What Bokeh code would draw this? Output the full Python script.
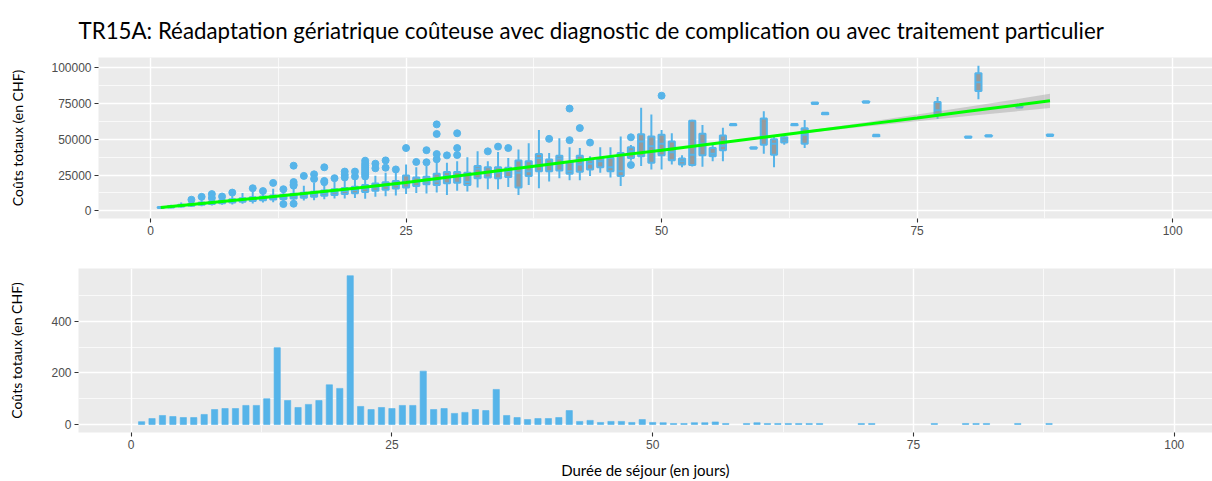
from bokeh.plotting import figure
from bokeh.models import FixedTicker, BasicTickFormatter, Range1d, ColumnDataSource
from bokeh.embed import file_html
from bokeh.resources import INLINE

TITLE = "TR15A: Réadaptation gériatrique coûteuse avec diagnostic de complication ou avec traitement particulier"
Y_LABEL = "Coûts totaux (en CHF)"
X_LABEL = "Durée de séjour (en jours)"

# ---- boxplot summaries per length of stay (days) ----
box_day = [1, 2, 3, 4, 5, 6, 7, 8, 9, 10, 11, 12, 13, 14, 15, 16, 17, 18, 19, 20,
           21, 22, 23, 24, 25, 26, 27, 28, 29, 30, 31, 32, 33, 34, 35, 36, 37, 38, 39, 40,
           41, 42, 43, 44, 45, 46, 47, 48, 49, 50, 51, 52, 53, 54, 55, 56, 57, 59, 60, 61,
           62, 63, 64, 65, 66, 70, 71, 77, 80, 81, 82, 85, 88]
w_low = [1800, 1800, 2300, 2800, 3300, 3800, 4300, 4500, 4900, 5200, 5800, 6000, 6300, 6500, 7200, 7500, 8200, 8700, 8600, 9000,
         8500, 9800, 10200, 10800, 11700, 12400, 12100, 12800, 11000, 14000, 13500, 16300, 15100, 15100, 16700, 11000, 18100, 15800, 20400, 22700,
         21300, 21300, 24300, 26600, 23200, 17400, 35000, 31200, 28900, 28900, 32300, 30500, 31000, 30700, 34600, 34600, 59600, 43300, 39900, 30500,
         46100, 59600, 43800, 74500, 67400, 75400, 52000, 64300, 50900, 77800, 51800, 72000, 52200]
q1 = [2000, 2400, 3000, 3600, 4200, 4800, 5400, 5900, 6400, 6900, 7500, 7900, 8300, 8700, 9200, 9800, 10500, 11100, 11700, 12300,
      13200, 14000, 14700, 15600, 16300, 17400, 18600, 18100, 19300, 19700, 18100, 22700, 23200, 22700, 23600, 16300, 24300, 27700, 27700, 28200,
      25900, 27300, 28900, 30500, 27700, 24300, 36900, 38100, 33500, 38800, 35300, 32300, 31900, 38800, 38100, 42200, 59600, 43300, 46100, 39200,
      47700, 59600, 46800, 74500, 67400, 75400, 52000, 67400, 50900, 83500, 51800, 72000, 52200]
med = [2300, 2900, 3500, 4200, 4900, 5600, 6300, 6900, 7500, 8100, 8700, 9200, 9700, 10200, 10800, 11500, 12300, 13000, 13800, 14600,
       15600, 16500, 17300, 18200, 20000, 20200, 20500, 20400, 24300, 24300, 20200, 29300, 27100, 26800, 27700, 26600, 27700, 36900, 32800, 36500,
       27700, 32300, 32800, 34600, 30500, 27700, 41500, 48400, 45000, 46800, 40800, 34600, 39200, 46800, 39900, 45400, 60100, 43800, 51800, 46800,
       49500, 60100, 53000, 75000, 67900, 75900, 52500, 70200, 51400, 89700, 52300, 72500, 52700]
q3 = [2700, 3400, 4200, 5000, 5800, 6600, 7400, 8100, 8800, 9500, 10100, 10800, 11300, 11900, 12600, 13400, 14300, 15100, 16000, 16900,
      18000, 19100, 19900, 20800, 24700, 23200, 23800, 25900, 27100, 27100, 26600, 31200, 30500, 30500, 30000, 35100, 34600, 39700, 35800, 38500,
      33900, 38500, 35300, 36900, 36900, 40400, 44300, 53400, 51800, 53000, 48400, 36500, 62800, 53700, 43800, 52500, 60600, 44300, 64400, 50000,
      51400, 60600, 57600, 75500, 68400, 76400, 53000, 75900, 51900, 95900, 52800, 73000, 53200]
w_high = [3000, 4300, 5800, 6600, 7900, 8600, 9400, 10900, 12500, 13500, 12800, 15500, 14500, 17000, 17500, 19500, 18800, 20500, 21500, 22000,
          23000, 24500, 26500, 26800, 32300, 30500, 31200, 34600, 33500, 34600, 37400, 41500, 34600, 41100, 36900, 42700, 47200, 56400, 40400, 50700,
          44300, 43800, 38100, 44300, 44300, 51800, 46000, 71800, 67200, 56400, 54100, 38800, 63500, 59900, 46100, 58000, 60600, 44300, 69500, 51800,
          52300, 60600, 63300, 75500, 68400, 76400, 53000, 79400, 51900, 101100, 52800, 73000, 53200]

# ---- outliers ----
out_day = [4, 5, 6, 6, 7, 8, 10, 11, 12, 13, 13, 14, 14, 14, 14, 14, 15, 16, 16, 17, 17, 17, 18, 19, 19, 19, 20, 20,
           21, 21, 21, 21, 21, 21, 21, 21, 22, 22, 23, 23, 24, 25, 26, 27, 27, 28, 28, 28, 28, 29, 30, 30, 30,
           33, 34, 35, 39, 41, 41, 42, 43, 47, 47, 50]
out_val = [7800, 9800, 11700, 9000, 10000, 12750, 15800, 13800, 19500, 15100, 4800, 31500, 20100, 18500, 17600, 5000, 24400, 25500, 22300, 30400, 20900, 20000, 22800, 27400, 25100, 23300, 27400, 24000,
           35000, 33000, 31500, 30000, 28500, 27000, 25500, 24000, 32900, 29700, 35200, 30100, 28900, 43800, 34100, 42300, 33900, 60300, 53600, 39600, 36000, 38700, 54100, 43800, 38900,
           41500, 44800, 43800, 50200, 71300, 49300, 57700, 47600, 51300, 32000, 80300]

# ---- smoothed trend with confidence band ----
smooth_x = [1, 5, 10, 15, 20, 25, 30, 35, 40, 45, 50, 55, 60, 65, 70, 75, 80, 85, 88]
smooth_y = [2300, 5100, 8600, 12100, 15800, 19800, 24300, 28800, 33400, 38000, 42300, 46800, 51300, 55800, 60300, 64800, 69400, 73900, 76700]
smooth_se = [700, 500, 350, 300, 300, 300, 300, 300, 300, 300, 300, 350, 500, 900, 1500, 2300, 3200, 4300, 5000]

# ---- number of cases per length of stay ----
count_day = box_day
count_n = [11, 23, 35, 31, 27, 27, 39, 58, 62, 62, 74, 74, 100, 298, 93, 66, 78, 93, 154, 140,
           577, 70, 58, 66, 62, 74, 74, 207, 58, 62, 43, 47, 58, 54, 136, 35, 27, 19, 23, 23,
           27, 54, 12, 16, 8, 12, 12, 8, 19, 8, 7, 4, 4, 7, 7, 10, 4, 4, 7, 4,
           4, 4, 4, 4, 4, 4, 4, 4, 4, 4, 4, 4, 4]

BLUE = "#56B4E9"
PANEL = "#EBEBEB"
TICK_FONT = "Liberation Sans"
LABEL_FONT = "Lato"


def style(p, xticks, xminor, yticks, yminor):
    p.background_fill_color = PANEL
    p.border_fill_color = "white"
    p.outline_line_color = None
    p.xaxis.ticker = FixedTicker(ticks=xticks, minor_ticks=xminor)
    p.yaxis.ticker = FixedTicker(ticks=yticks, minor_ticks=yminor)
    for g in (p.xgrid, p.ygrid):
        g.grid_line_color = "white"
        g.grid_line_width = 1.4
        g.minor_grid_line_color = "white"
        g.minor_grid_line_width = 0.7
    for ax in (p.xaxis, p.yaxis):
        ax.axis_line_color = None
        ax.major_tick_line_color = "#333333"
        ax.major_tick_line_width = 1.1
        ax.major_tick_out = 4
        ax.major_tick_in = 0
        ax.minor_tick_line_color = None
        ax.major_label_text_font = TICK_FONT
        ax.major_label_text_font_size = "12px"
        ax.major_label_text_color = "#4D4D4D"
        ax.major_label_standoff = 3
        ax.axis_label_text_font = LABEL_FONT
        ax.axis_label_text_font_size = "14px"
        ax.axis_label_text_font_style = "normal"
        ax.axis_label_text_color = "black"


# ---------- top panel ----------
p1 = figure(width=1212, height=248, output_backend="svg", toolbar_location=None,
            x_range=Range1d(-5.09, 103.9), y_range=Range1d(-5300, 106900),
            min_border_left=98, min_border_right=0, min_border_top=55, min_border_bottom=30)
style(p1, [0, 25, 50, 75, 100], [-12.5, 12.5, 37.5, 62.5, 87.5], [0, 25000, 50000, 75000, 100000],
      [12500, 37500, 62500, 87500])
p1.yaxis.formatter = BasicTickFormatter(use_scientific=False)
p1.yaxis.axis_label = Y_LABEL
p1.yaxis.axis_label_standoff = 22
p1.title.text = TITLE
p1.title.text_font = LABEL_FONT
p1.title.text_font_size = "22.3px"
p1.title.text_font_style = "normal"
p1.title.text_color = "black"
p1.title.align = "left"
p1.title.offset = -20
p1.title.standoff = 28

src = ColumnDataSource(dict(x=box_day, lo=w_low, q1=q1, med=med, q3=q3, hi=w_high,
                            x0=[d - 0.3 for d in box_day], x1=[d + 0.3 for d in box_day]))
p1.segment(x0="x", y0="lo", x1="x", y1="hi", source=src, line_color=BLUE, line_width=2)
p1.vbar(x="x", width=0.6, bottom="q1", top="q3", source=src, fill_color="#999999",
        line_color=BLUE, line_width=2)
p1.segment(x0="x0", y0="med", x1="x1", y1="med", source=src, line_color=BLUE, line_width=2)
p1.scatter(out_day, out_val, size=7, color=BLUE, line_color=BLUE)

band_lo = [y - s for y, s in zip(smooth_y, smooth_se)]
band_hi = [y + s for y, s in zip(smooth_y, smooth_se)]
p1.varea(x=smooth_x, y1=band_lo, y2=band_hi, fill_color="#999999", fill_alpha=0.4)
p1.line(smooth_x, smooth_y, line_color="#00FF00", line_width=3)

# ---------- bottom panel ----------
p2 = figure(width=1212, height=233, output_backend="svg", toolbar_location=None,
            x_range=Range1d(-5.05, 103.67), y_range=Range1d(-31, 605),
            min_border_left=78, min_border_right=0, min_border_top=20, min_border_bottom=49)
style(p2, [0, 25, 50, 75, 100], [-12.5, 12.5, 37.5, 62.5, 87.5], [0, 200, 400], [100, 300, 500])
p2.yaxis.axis_label = Y_LABEL
p2.yaxis.axis_label_standoff = 23
p2.xaxis.axis_label = X_LABEL
p2.xaxis.axis_label_text_font_size = "15px"
p2.xaxis.axis_label_standoff = 9
p2.vbar(x=count_day, top=count_n, bottom=0, width=0.6, fill_color=BLUE, line_color=BLUE, line_alpha=0.6)

open("out.html", "w").write(file_html([p1, p2], INLINE))
